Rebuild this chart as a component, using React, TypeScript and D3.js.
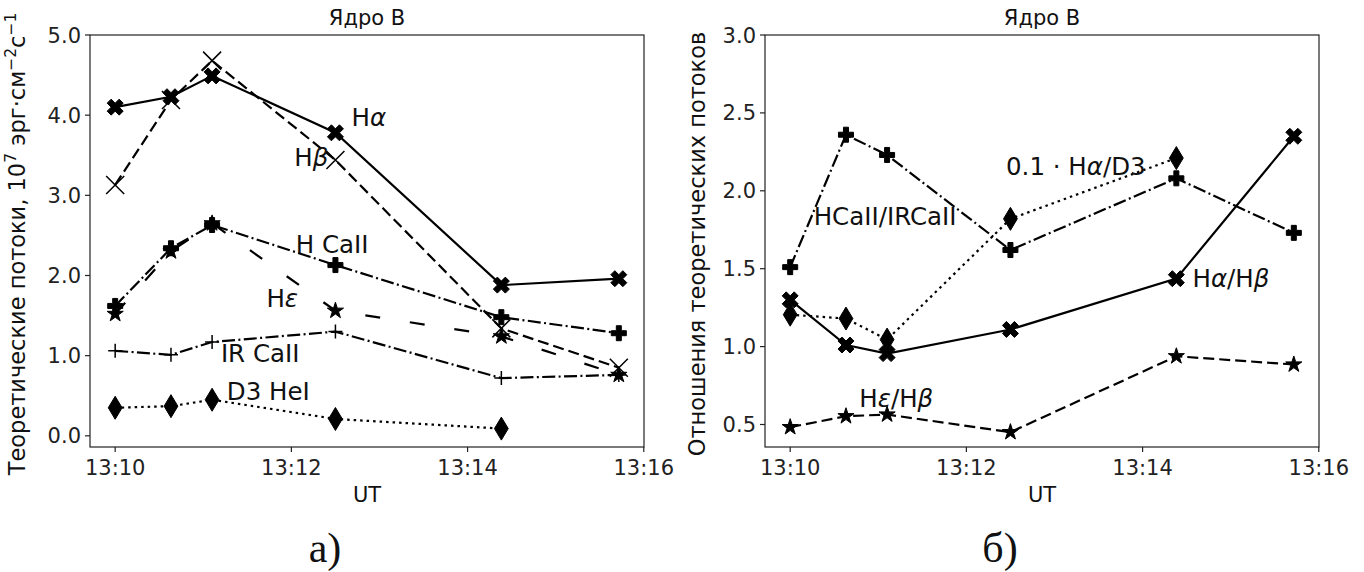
import React from "react";
import * as d3 from "d3";

// observation times (UT)
const times = ["13:10:00", "13:10:38", "13:11:06", "13:12:30", "13:14:23", "13:15:43"];

// panel a) theoretical fluxes, 10^7 erg cm^-2 s^-1
const fluxHa = [4.1, 4.23, 4.49, 3.78, 1.88, 1.96];
const fluxHb = [3.13, 4.19, 4.68, 3.44, 1.34, 0.85];
const fluxHCaII = [1.62, 2.34, 2.63, 2.13, 1.48, 1.28];
const fluxHeps = [1.52, 2.3, 2.65, 1.56, 1.24, 0.76];
const fluxIRCaII = [1.06, 1.01, 1.17, 1.3, 0.72, 0.76];
const fluxD3 = [0.35, 0.37, 0.45, 0.21, 0.09];

// panel б) flux ratios
const ratioHaHb = [1.3, 1.01, 0.955, 1.11, 1.436, 2.35];
const ratioCaII = [1.51, 2.36, 2.23, 1.62, 2.08, 1.73];
const ratioHaD3 = [1.205, 1.18, 1.045, 1.82, 2.21];
const ratioHeHb = [0.483, 0.553, 0.564, 0.451, 0.938, 0.885];

const leftTicks = [0, 1, 2, 3, 4, 5];
const rightTicks = [0.5, 1.0, 1.5, 2.0, 2.5, 3.0];

const parse = d3.timeParse("%H:%M:%S");
const T = times.map((s) => parse(s) as Date);
const fmt = d3.timeFormat("%H:%M");

const FONT = "'DejaVu Sans', sans-serif";
const DASH = "11,5";
const DASHDOT = "13,3.4,2,3.4";
const LONGDASH = "15,30";
const DOT = "2.5,4";

// marker shapes, centered at 0
function markerPath(kind: string, s: number) {
  const pts = (arr: number[][]) =>
    "M" + arr.map(([a, b]) => `${(a - 0.5) * s},${(b - 0.5) * s}`).join("L") + "Z";
  if (kind === "X")
    return pts([[0.25, 0], [0.5, 0.25], [0.75, 0], [1, 0.25], [0.75, 0.5], [1, 0.75],
      [0.75, 1], [0.5, 0.75], [0.25, 1], [0, 0.75], [0.25, 0.5], [0, 0.25]]);
  if (kind === "P")
    return pts([[1 / 3, 0], [2 / 3, 0], [2 / 3, 1 / 3], [1, 1 / 3], [1, 2 / 3], [2 / 3, 2 / 3],
      [2 / 3, 1], [1 / 3, 1], [1 / 3, 2 / 3], [0, 2 / 3], [0, 1 / 3], [1 / 3, 1 / 3]]);
  if (kind === "*") {
    const r = s / 2, ri = r * 0.381966;
    const p = d3.range(10).map((i) => {
      const a = -Math.PI / 2 + (i * Math.PI) / 5;
      const rr = i % 2 ? ri : r;
      return `${rr * Math.cos(a)},${rr * Math.sin(a)}`;
    });
    return "M" + p.join("L") + "Z";
  }
  const h = s / 2;
  if (kind === "x") return `M${-h},${-h}L${h},${h}M${-h},${h}L${h},${-h}`;
  if (kind === "+") return `M${-h},0H${h}M0,${-h}V${h}`;
  if (kind === "d") return `M0,${-h}L${h * 0.6},0L0,${h}L${-h * 0.6},0Z`;
  return "";
}

const filled = (k: string) => k === "X" || k === "P" || k === "*" || k === "d";
const msize: Record<string, number> = { X: 16, P: 15, "*": 17, x: 18, "+": 14, d: 23 };

type Series = { values: number[]; dash: string | null; marker: string };
type Label = { parts: [string, boolean][]; t: string; v: number };
// [text, superscript]
type Part = [string, boolean];

const Panel = ({ left, top, width, height, series, labels, ticks, yTop, yLabel, tickFmt }: {
  left: number; top: number; width: number; height: number; series: Series[]; labels: Label[];
  ticks: number[]; yTop: number; yLabel: Part[]; tickFmt: (v: number) => string;
}) => {
  const ext = d3.extent(T) as [Date, Date];
  const pad = (+ext[1] - +ext[0]) * 0.05;
  const x = d3.scaleTime()
    .domain([new Date(+ext[0] - pad), new Date(+ext[1] + pad)])
    .range([left, left + width]);
  const all = series.flatMap((s) => s.values);
  const lo = d3.min(all) as number, hi = d3.max(all) as number;
  const y = d3.scaleLinear().domain([lo - (hi - lo) * 0.05, yTop]).range([top + height, top]);
  const line = d3.line<number>().x((_, i) => x(T[i])).y((d) => y(d));
  const xt = x.ticks(d3.timeMinute.every(2) as d3.TimeInterval);
  const cx = left + width / 2;
  return (
    <g fontFamily={FONT}>
      <text x={cx} y={top - 10} textAnchor="middle" fontSize={21} fill="#111">Ядро B</text>
      {series.map((s, si) => (
        <path key={si} d={line(s.values) || ""} fill="none" stroke="#000" strokeWidth={2.2}
          strokeDasharray={s.dash || undefined} />
      ))}
      {series.map((s, si) =>
        s.values.map((v, i) => (
          <path key={`${si}-${i}`} transform={`translate(${x(T[i])},${y(v)})`}
            d={markerPath(s.marker, msize[s.marker])}
            fill={filled(s.marker) ? "#000" : "none"} stroke="#000"
            strokeWidth={filled(s.marker) ? 1 : 1.5} strokeLinejoin="miter" />
        ))
      )}
      {labels.map((l, li) => (
        <text key={li} x={x(parse(l.t) as Date)} y={y(l.v)} fontSize={24.5} fill="#111">
          {l.parts.map(([txt, it], pi) => (
            <tspan key={pi} fontStyle={it ? "italic" : "normal"}>{txt}</tspan>
          ))}
        </text>
      ))}
      <rect x={left} y={top} width={width} height={height} fill="none" stroke="#222" strokeWidth={1.2} />
      {xt.map((t, i) => (
        <g key={i} transform={`translate(${x(t)},${top + height})`}>
          <line y2={5} stroke="#222" strokeWidth={1.2} />
          <text y={28} textAnchor="middle" fontSize={21} fill="#222">{fmt(t)}</text>
        </g>
      ))}
      {ticks.map((v, i) => (
        <g key={i} transform={`translate(${left},${y(v)})`}>
          <line x2={-5} stroke="#222" strokeWidth={1.2} />
          <text x={-9} dy="0.36em" textAnchor="end" fontSize={21} fill="#222">{tickFmt(v)}</text>
        </g>
      ))}
      <text x={cx} y={top + height + 55} textAnchor="middle" fontSize={21} fill="#111">UT</text>
      <text transform={`translate(${left - (left > 400 ? 60 : 65)},${top + height / 2 + 3}) rotate(-90)`}
        textAnchor="middle" fontSize={22.5} fill="#111">
        {yLabel.map(([txt, sup], i) =>
          sup ? (
            <tspan key={i} fontSize={15.5} baselineShift="55%">{txt}</tspan>
          ) : (
            <tspan key={i}>{txt}</tspan>
          )
        )}
      </text>
    </g>
  );
};

const leftSeries: Series[] = [
  { values: fluxHa, dash: null, marker: "X" },
  { values: fluxHb, dash: DASH, marker: "x" },
  { values: fluxHeps, dash: LONGDASH, marker: "*" },
  { values: fluxHCaII, dash: DASHDOT, marker: "P" },
  { values: fluxIRCaII, dash: DASHDOT, marker: "+" },
  { values: fluxD3, dash: DOT, marker: "d" },
];

const rightSeries: Series[] = [
  { values: ratioHaHb, dash: null, marker: "X" },
  { values: ratioCaII, dash: DASHDOT, marker: "P" },
  { values: ratioHaD3, dash: DOT, marker: "d" },
  { values: ratioHeHb, dash: DASH, marker: "*" },
];

const leftLabels: Label[] = [
  { parts: [["H", false], ["α", true]], t: "13:12:41", v: 3.87 },
  { parts: [["H", false], ["β", true]], t: "13:12:02", v: 3.37 },
  { parts: [["H CaII", false]], t: "13:12:03", v: 2.28 },
  { parts: [["H", false], ["ε", true]], t: "13:11:43", v: 1.61 },
  { parts: [["IR CaII", false]], t: "13:11:12", v: 0.92 },
  { parts: [["D3 HeI", false]], t: "13:11:16", v: 0.45 },
];

const rightLabels: Label[] = [
  { parts: [["HCaII/IRCaII", false]], t: "13:10:16", v: 1.78 },
  { parts: [["0.1 · H", false], ["α", true], ["/D3", false]], t: "13:12:27", v: 2.1 },
  { parts: [["H", false], ["α", true], ["/H", false], ["β", true]], t: "13:14:34", v: 1.385 },
  { parts: [["H", false], ["ε", true], ["/H", false], ["β", true]], t: "13:10:47", v: 0.615 },
];

const leftYLabel: Part[] = [
  ["Теоретические потоки, 10", false], ["7", true], [" эрг·см", false], ["−2", true],
  ["с", false], ["−1", true],
];
const rightYLabel: Part[] = [["Отношения теоретических потоков", false]];

export default function App() {
  return (
    <div style={{ position: "absolute", left: 0, top: 0 }}>
      <svg width={1364} height={572} style={{ display: "block", background: "#fff" }}>
        <Panel left={90} top={35} width={554} height={412} series={leftSeries} labels={leftLabels}
          ticks={leftTicks} yTop={5.0} tickFmt={(v) => v.toFixed(1)} yLabel={leftYLabel} />
        <Panel left={765} top={35} width={554} height={412} series={rightSeries} labels={rightLabels}
          ticks={rightTicks} yTop={3.0} tickFmt={(v) => v.toFixed(1)} yLabel={rightYLabel} />
        <text x={325} y={562} textAnchor="middle" fontSize={42} fontFamily="'Liberation Serif', serif" fill="#111">а)</text>
        <text x={1000} y={562} textAnchor="middle" fontSize={42} fontFamily="'Liberation Serif', serif" fill="#111">б)</text>
      </svg>
    </div>
  );
}
